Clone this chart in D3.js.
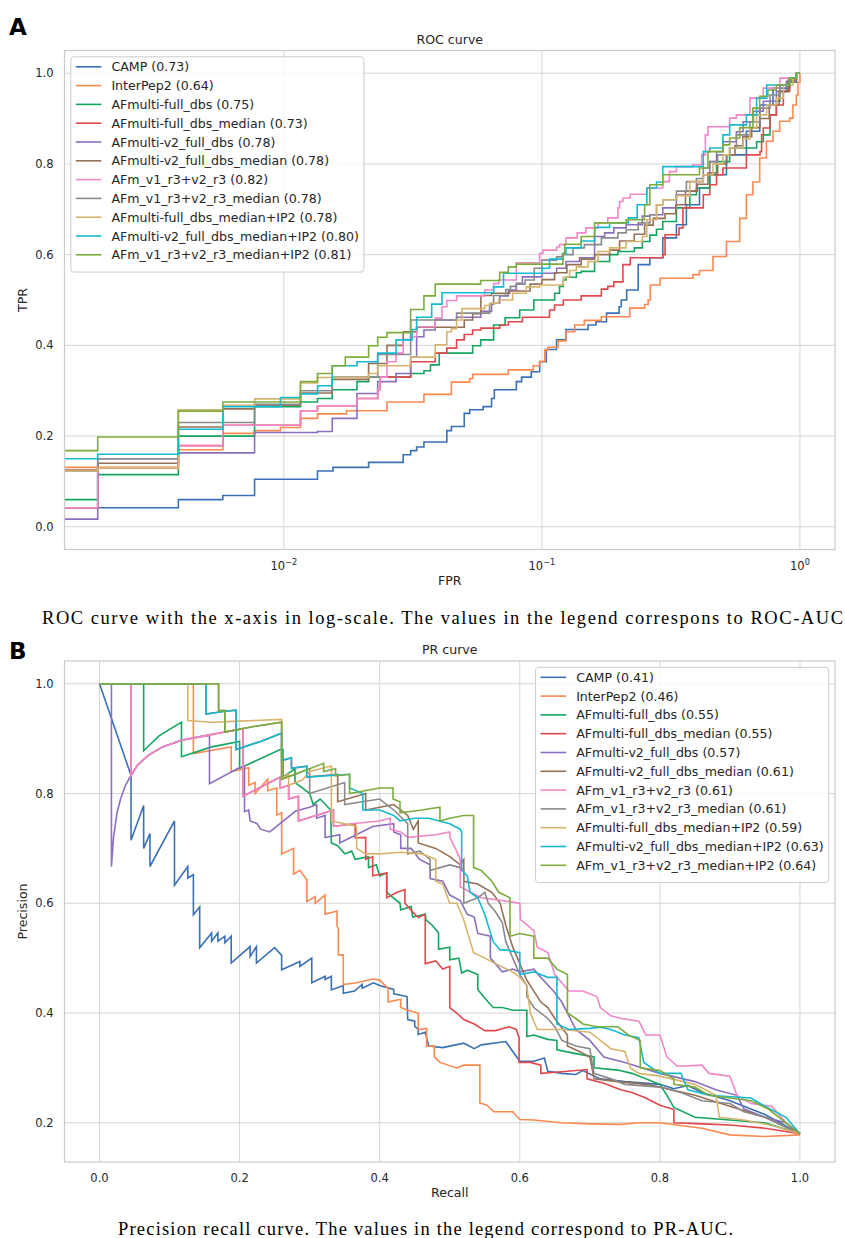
<!DOCTYPE html>
<html>
<head>
<meta charset="utf-8">
<script src="https://cdn.jsdelivr.net/npm/d3@7"></script>
<style>
  body { margin: 0; background: #fff; }
  svg text { font-family: "DejaVu Sans", sans-serif; fill: #262626; }
</style>
</head>
<body>
<svg id="fig" width="845" height="1238"></svg>
<script>
// ---------- series metadata ----------
const seriesNames = [
  "CAMP", "InterPep2", "AFmulti-full_dbs", "AFmulti-full_dbs_median",
  "AFmulti-v2_full_dbs", "AFmulti-v2_full_dbs_median", "AFm_v1_r3+v2_r3",
  "AFm_v1_r3+v2_r3_median", "AFmulti-full_dbs_median+IP2",
  "AFmulti-v2_full_dbs_median+IP2", "AFm_v1_r3+v2_r3_median+IP2"
];
const rocAuc = [0.73, 0.64, 0.75, 0.73, 0.78, 0.78, 0.82, 0.78, 0.78, 0.80, 0.81];
const prAuc  = [0.41, 0.46, 0.55, 0.55, 0.57, 0.61, 0.61, 0.61, 0.59, 0.63, 0.64];
const palette = ["#3a70b4", "#fa8a50", "#15a55f", "#e2474b", "#8b6fbf", "#967055",
                 "#f087c8", "#8a8a8a", "#d7b46e", "#16b9d2", "#7dac3c"];

const rocXTicks = [0.01, 0.1, 1];
const rocXExp = ["\u22122", "\u22121", "0"];
const rocYTicks = [0.0, 0.2, 0.4, 0.6, 0.8, 1.0];
const prXTicks = [0.0, 0.2, 0.4, 0.6, 0.8, 1.0];
const prYTicks = [0.2, 0.4, 0.6, 0.8, 1.0];

// ---------- ROC curves: [FPR, TPR] corners ----------
const rocCamp = [[0.0012,0.042],[0.0039,0.060],[0.0058,0.069],[0.0077,0.105],[0.0135,0.123],[0.0155,0.131],[0.0213,0.142],[0.029,0.159],[0.031,0.168],[0.0327,0.176],[0.0349,0.187],[0.0428,0.212],[0.0446,0.221],[0.050,0.25],[0.0525,0.258],[0.0592,0.265],[0.0638,0.283],[0.0654,0.302],[0.0796,0.32],[0.0834,0.33],[0.091,0.342],[0.098,0.364],[0.104,0.391],[0.114,0.412],[0.124,0.435],[0.151,0.445],[0.162,0.452],[0.178,0.471],[0.199,0.485],[0.203,0.50],[0.213,0.522],[0.236,0.578],[0.262,0.593],[0.294,0.637],[0.332,0.666],[0.363,0.71],[0.408,0.747],[0.447,0.776],[0.519,0.82],[0.62,0.872],[0.698,0.93],[0.786,0.967],[0.912,0.99],[0.968,1.0],[1.0,1.0]];
const rocInterPep2 = [[0.0012,0.131],[0.0039,0.17],[0.0058,0.206],[0.0077,0.212],[0.0097,0.219],[0.0116,0.239],[0.0135,0.249],[0.0175,0.256],[0.0251,0.275],[0.0349,0.292],[0.0446,0.319],[0.0525,0.327],[0.0539,0.336],[0.0741,0.346],[0.0925,0.355],[0.098,0.365],[0.1026,0.39],[0.1055,0.396],[0.1155,0.41],[0.124,0.43],[0.134,0.445],[0.146,0.455],[0.170,0.463],[0.219,0.482],[0.25,0.49],[0.258,0.50],[0.263,0.533],[0.287,0.548],[0.385,0.556],[0.408,0.565],[0.46,0.596],[0.519,0.629],[0.584,0.68],[0.62,0.732],[0.657,0.76],[0.698,0.813],[0.741,0.85],[0.786,0.872],[0.834,0.894],[0.912,0.901],[0.939,0.93],[0.968,0.952],[0.982,0.98],[1.0,1.0]];
const rocFull = [[0.0012,0.06],[0.0019,0.115],[0.0039,0.2],[0.0077,0.265],[0.0116,0.275],[0.0135,0.283],[0.0154,0.302],[0.0192,0.32],[0.0213,0.33],[0.031,0.338],[0.0349,0.344],[0.037,0.357],[0.04,0.383],[0.0539,0.399],[0.0579,0.412],[0.065,0.445],[0.072,0.461],[0.082,0.478],[0.093,0.5],[0.112,0.515],[0.117,0.53],[0.121,0.544],[0.124,0.55],[0.136,0.56],[0.142,0.563],[0.16,0.585],[0.183,0.6],[0.197,0.607],[0.228,0.615],[0.245,0.629],[0.262,0.643],[0.278,0.656],[0.294,0.673],[0.332,0.703],[0.374,0.732],[0.397,0.747],[0.447,0.776],[0.475,0.805],[0.534,0.835],[0.679,0.849],[0.721,0.864],[0.765,0.908],[0.81,0.938],[0.836,0.96],[0.9,0.98],[0.968,1],[1,1]];
const rocFullMedian = [[0.0012,0.042],[0.0019,0.13],[0.0039,0.179],[0.0058,0.224],[0.0116,0.256],[0.0135,0.267],[0.0192,0.283],[0.0231,0.302],[0.0236,0.33],[0.031,0.364],[0.0386,0.383],[0.0428,0.394],[0.0467,0.412],[0.05,0.424],[0.0539,0.434],[0.058,0.438],[0.0686,0.445],[0.0741,0.452],[0.084,0.462],[0.107,0.478],[0.112,0.489],[0.121,0.5],[0.142,0.509],[0.17,0.524],[0.18,0.53],[0.19,0.54],[0.206,0.578],[0.22,0.593],[0.294,0.6],[0.3,0.644],[0.34,0.659],[0.352,0.703],[0.422,0.732],[0.447,0.754],[0.475,0.776],[0.503,0.791],[0.62,0.82],[0.7,0.827],[0.71,0.864],[0.721,0.879],[0.765,0.908],[0.81,0.93],[0.862,0.96],[0.912,0.982],[0.968,1],[1,1]];
const rocV2 = [[0.0012,0.017],[0.0019,0.150],[0.0039,0.163],[0.0077,0.208],[0.0135,0.21],[0.0154,0.239],[0.0192,0.294],[0.0231,0.32],[0.0272,0.338],[0.031,0.374],[0.0327,0.419],[0.0349,0.434],[0.0386,0.456],[0.0467,0.462],[0.058,0.475],[0.0638,0.493],[0.0686,0.509],[0.0741,0.522],[0.0796,0.537],[0.084,0.551],[0.100,0.559],[0.114,0.57],[0.124,0.585],[0.14,0.593],[0.16,0.64],[0.175,0.648],[0.19,0.659],[0.212,0.666],[0.245,0.685],[0.262,0.688],[0.294,0.703],[0.332,0.732],[0.374,0.74],[0.397,0.761],[0.422,0.776],[0.447,0.805],[0.475,0.827],[0.503,0.849],[0.567,0.871],[0.602,0.893],[0.66,0.916],[0.721,0.938],[0.81,0.96],[0.885,0.982],[0.968,1],[1,1]];
const rocV2Median = [[0.0012,0.125],[0.0019,0.14],[0.0039,0.22],[0.0058,0.26],[0.0077,0.268],[0.0116,0.295],[0.0154,0.325],[0.0213,0.36],[0.0251,0.40],[0.029,0.43],[0.0327,0.44],[0.05,0.456],[0.0539,0.47],[0.058,0.51],[0.0638,0.515],[0.075,0.52],[0.09,0.535],[0.1,0.545],[0.112,0.56],[0.125,0.578],[0.142,0.59],[0.16,0.6],[0.183,0.61],[0.2,0.63],[0.228,0.645],[0.25,0.665],[0.27,0.68],[0.3,0.69],[0.33,0.71],[0.36,0.74],[0.4,0.755],[0.44,0.78],[0.48,0.8],[0.52,0.82],[0.56,0.84],[0.6,0.86],[0.65,0.88],[0.7,0.9],[0.76,0.93],[0.83,0.96],[0.9,0.985],[0.968,1],[1,1]];
const rocV1V2 = [[0.0012,0.042],[0.0019,0.13],[0.0039,0.179],[0.0058,0.224],[0.0116,0.256],[0.0135,0.267],[0.0192,0.283],[0.0231,0.302],[0.0236,0.33],[0.0251,0.364],[0.0272,0.383],[0.029,0.413],[0.031,0.419],[0.0327,0.441],[0.0386,0.46],[0.041,0.485],[0.0428,0.499],[0.0467,0.509],[0.060,0.522],[0.065,0.536],[0.068,0.544],[0.0796,0.582],[0.098,0.603],[0.101,0.61],[0.114,0.617],[0.117,0.622],[0.124,0.637],[0.137,0.648],[0.148,0.659],[0.165,0.67],[0.18,0.681],[0.197,0.703],[0.2,0.717],[0.206,0.725],[0.22,0.733],[0.255,0.747],[0.294,0.761],[0.312,0.783],[0.332,0.794],[0.385,0.798],[0.416,0.82],[0.43,0.864],[0.44,0.882],[0.534,0.901],[0.567,0.908],[0.64,0.945],[0.721,0.967],[0.836,0.989],[0.968,1],[1,1]];
const rocV1V2Median = [[0.0012,0.123],[0.0019,0.15],[0.0039,0.23],[0.0077,0.27],[0.0116,0.3],[0.0154,0.33],[0.0231,0.38],[0.031,0.456],[0.0467,0.471],[0.0627,0.491],[0.065,0.51],[0.0724,0.523],[0.0755,0.53],[0.0796,0.535],[0.086,0.544],[0.0934,0.57],[0.1,0.588],[0.114,0.595],[0.12,0.6],[0.132,0.615],[0.146,0.622],[0.17,0.637],[0.197,0.648],[0.212,0.655],[0.236,0.67],[0.262,0.688],[0.278,0.71],[0.294,0.721],[0.332,0.74],[0.363,0.761],[0.397,0.768],[0.422,0.791],[0.447,0.805],[0.48,0.82],[0.534,0.835],[0.567,0.864],[0.64,0.893],[0.7,0.923],[0.765,0.952],[0.836,0.974],[0.912,0.99],[0.968,1],[1,1]];
const rocFullMedianIP2 = [[0.0012,0.123],[0.0019,0.13],[0.0039,0.258],[0.0058,0.268],[0.0077,0.282],[0.0116,0.317],[0.0135,0.329],[0.0213,0.338],[0.0231,0.355],[0.031,0.374],[0.0386,0.401],[0.0428,0.43],[0.0446,0.437],[0.0467,0.456],[0.049,0.481],[0.06,0.488],[0.063,0.493],[0.068,0.50],[0.077,0.515],[0.087,0.529],[0.098,0.533],[0.121,0.55],[0.128,0.565],[0.136,0.573],[0.151,0.585],[0.165,0.607],[0.183,0.615],[0.212,0.629],[0.245,0.64],[0.255,0.677],[0.278,0.71],[0.294,0.721],[0.332,0.73],[0.374,0.761],[0.422,0.776],[0.46,0.80],[0.503,0.82],[0.534,0.835],[0.602,0.855],[0.64,0.879],[0.679,0.908],[0.743,0.93],[0.81,0.945],[0.862,0.974],[0.94,0.99],[0.968,1],[1,1]];
const rocV2MedianIP2 = [[0.0012,0.150],[0.0019,0.16],[0.0039,0.215],[0.0058,0.265],[0.0097,0.285],[0.0116,0.293],[0.0135,0.311],[0.0154,0.355],[0.0192,0.364],[0.0231,0.383],[0.0272,0.412],[0.0314,0.435],[0.0327,0.462],[0.0374,0.491],[0.041,0.516],[0.065,0.529],[0.071,0.559],[0.1,0.57],[0.107,0.59],[0.121,0.603],[0.124,0.615],[0.142,0.63],[0.16,0.66],[0.183,0.67],[0.216,0.681],[0.234,0.71],[0.255,0.747],[0.278,0.76],[0.294,0.794],[0.422,0.827],[0.447,0.835],[0.503,0.864],[0.534,0.886],[0.62,0.908],[0.679,0.945],[0.743,0.974],[0.912,0.99],[0.968,1],[1,1]];
const rocV1V2MedianIP2 = [[0.0012,0.168],[0.0019,0.198],[0.0039,0.255],[0.0058,0.275],[0.0116,0.32],[0.0135,0.338],[0.0154,0.355],[0.0173,0.374],[0.0213,0.399],[0.0231,0.418],[0.0251,0.428],[0.031,0.479],[0.0349,0.509],[0.0386,0.535],[0.0579,0.543],[0.0686,0.561],[0.0741,0.573],[0.0796,0.579],[0.1206,0.603],[0.1225,0.623],[0.142,0.640],[0.160,0.670],[0.212,0.677],[0.25,0.71],[0.262,0.754],[0.294,0.776],[0.408,0.791],[0.44,0.827],[0.503,0.842],[0.534,0.857],[0.584,0.88],[0.657,0.923],[0.698,0.949],[0.751,0.963],[0.81,0.974],[0.912,0.989],[0.968,1.0],[1,1]];

// ---------- PR curves: [recall, precision] ----------
const prCamp = [[0,1],[0.045,0.833],[0.045,0.715],[0.063,0.778],[0.063,0.70],[0.072,0.727],[0.072,0.667],[0.107,0.75],[0.107,0.633],[0.126,0.667],[0.126,0.646],[0.134,0.652],[0.134,0.579],[0.143,0.593],[0.143,0.519],[0.16,0.546],[0.16,0.531],[0.169,0.546],[0.169,0.531],[0.179,0.54],[0.179,0.528],[0.188,0.54],[0.188,0.491],[0.215,0.521],[0.215,0.503],[0.224,0.521],[0.224,0.491],[0.25,0.519],[0.26,0.505],[0.26,0.479],[0.286,0.494],[0.286,0.485],[0.303,0.50],[0.303,0.455],[0.322,0.467],[0.322,0.461],[0.331,0.467],[0.331,0.442],[0.348,0.45],[0.348,0.436],[0.364,0.44],[0.375,0.452],[0.375,0.445],[0.391,0.455],[0.4,0.45],[0.42,0.443],[0.42,0.435],[0.439,0.43],[0.44,0.388],[0.45,0.385],[0.45,0.376],[0.455,0.37],[0.455,0.361],[0.465,0.365],[0.47,0.34],[0.49,0.337],[0.52,0.345],[0.535,0.335],[0.545,0.342],[0.58,0.348],[0.59,0.33],[0.6,0.312],[0.62,0.312],[0.635,0.318],[0.64,0.294],[0.66,0.29],[0.68,0.288],[0.69,0.295],[0.715,0.28],[0.75,0.275],[0.8,0.27],[0.82,0.262],[0.84,0.268],[0.86,0.255],[0.9,0.24],[0.95,0.215],[1.0,0.18]];
const prInterPep2 = [[0,1],[0.134,1],[0.134,0.873],[0.188,0.885],[0.188,0.84],[0.213,0.847],[0.213,0.815],[0.222,0.82],[0.222,0.80],[0.24,0.826],[0.24,0.805],[0.253,0.81],[0.253,0.761],[0.26,0.765],[0.26,0.69],[0.277,0.70],[0.277,0.653],[0.286,0.66],[0.296,0.643],[0.296,0.603],[0.308,0.612],[0.308,0.6],[0.322,0.615],[0.322,0.58],[0.339,0.586],[0.339,0.56],[0.341,0.552],[0.341,0.506],[0.348,0.506],[0.348,0.452],[0.367,0.455],[0.391,0.462],[0.4,0.46],[0.412,0.445],[0.412,0.42],[0.43,0.425],[0.43,0.41],[0.44,0.405],[0.455,0.4],[0.455,0.37],[0.467,0.372],[0.467,0.339],[0.478,0.34],[0.478,0.32],[0.486,0.31],[0.51,0.30],[0.52,0.305],[0.543,0.305],[0.543,0.236],[0.553,0.232],[0.563,0.22],[0.59,0.22],[0.6,0.206],[0.62,0.205],[0.66,0.2],[0.7,0.198],[0.744,0.197],[0.77,0.2],[0.8,0.2],[0.86,0.19],[0.9,0.178],[0.95,0.175],[1.0,0.178]];
const prFull = [[0,1],[0.063,1],[0.063,0.878],[0.085,0.905],[0.117,0.93],[0.117,0.867],[0.16,0.885],[0.2,0.895],[0.2,0.846],[0.258,0.88],[0.262,0.88],[0.262,0.83],[0.279,0.845],[0.279,0.82],[0.29,0.81],[0.3,0.80],[0.305,0.78],[0.315,0.79],[0.33,0.77],[0.331,0.71],[0.34,0.705],[0.35,0.69],[0.36,0.695],[0.365,0.68],[0.384,0.685],[0.384,0.665],[0.395,0.67],[0.4,0.65],[0.41,0.655],[0.41,0.62],[0.429,0.6],[0.43,0.588],[0.445,0.594],[0.447,0.575],[0.465,0.58],[0.466,0.57],[0.475,0.56],[0.484,0.546],[0.484,0.516],[0.5,0.52],[0.5,0.497],[0.513,0.5],[0.517,0.473],[0.525,0.478],[0.54,0.47],[0.54,0.443],[0.548,0.43],[0.562,0.41],[0.575,0.41],[0.59,0.405],[0.61,0.405],[0.61,0.357],[0.62,0.36],[0.64,0.352],[0.653,0.35],[0.653,0.333],[0.68,0.326],[0.706,0.32],[0.706,0.30],[0.74,0.296],[0.76,0.29],[0.8,0.27],[0.81,0.25],[0.82,0.228],[0.85,0.21],[0.9,0.205],[0.95,0.2],[1.0,0.18]];
const prFullMedian = [[0,1],[0.045,1],[0.045,0.833],[0.055,0.853],[0.07,0.87],[0.09,0.885],[0.117,0.897],[0.15,0.905],[0.179,0.912],[0.205,0.918],[0.205,0.795],[0.258,0.83],[0.258,0.81],[0.27,0.815],[0.27,0.79],[0.284,0.795],[0.284,0.75],[0.334,0.77],[0.334,0.74],[0.365,0.745],[0.365,0.719],[0.38,0.72],[0.38,0.68],[0.39,0.685],[0.39,0.65],[0.41,0.655],[0.41,0.61],[0.425,0.62],[0.436,0.625],[0.436,0.6],[0.45,0.58],[0.455,0.574],[0.465,0.58],[0.465,0.49],[0.48,0.495],[0.49,0.48],[0.5,0.485],[0.5,0.41],[0.51,0.40],[0.52,0.388],[0.535,0.38],[0.55,0.368],[0.565,0.368],[0.585,0.375],[0.595,0.37],[0.599,0.355],[0.599,0.31],[0.615,0.31],[0.63,0.305],[0.63,0.29],[0.66,0.293],[0.696,0.297],[0.696,0.28],[0.72,0.272],[0.744,0.26],[0.76,0.255],[0.78,0.245],[0.8,0.232],[0.82,0.224],[0.82,0.2],[0.86,0.198],[0.9,0.196],[0.95,0.19],[1.0,0.18]];
const prV2 = [[0,1],[0.017,1],[0.017,0.667],[0.02,0.72],[0.025,0.765],[0.03,0.79],[0.037,0.815],[0.045,0.833],[0.055,0.853],[0.07,0.87],[0.09,0.885],[0.117,0.897],[0.15,0.905],[0.157,0.906],[0.157,0.818],[0.198,0.846],[0.207,0.85],[0.207,0.767],[0.213,0.77],[0.215,0.75],[0.225,0.745],[0.23,0.735],[0.243,0.73],[0.28,0.768],[0.3,0.775],[0.31,0.78],[0.31,0.755],[0.322,0.76],[0.322,0.72],[0.343,0.725],[0.343,0.71],[0.39,0.74],[0.42,0.745],[0.42,0.73],[0.43,0.725],[0.43,0.70],[0.445,0.70],[0.457,0.68],[0.472,0.67],[0.472,0.645],[0.49,0.64],[0.5,0.615],[0.515,0.605],[0.525,0.58],[0.535,0.575],[0.54,0.545],[0.558,0.54],[0.558,0.5],[0.565,0.49],[0.575,0.475],[0.59,0.48],[0.6,0.475],[0.62,0.48],[0.63,0.465],[0.648,0.44],[0.66,0.42],[0.68,0.37],[0.7,0.35],[0.72,0.32],[0.75,0.31],[0.8,0.29],[0.85,0.275],[0.88,0.26],[0.91,0.25],[0.92,0.225],[0.95,0.21],[0.98,0.2],[1.0,0.18]];
const prV2Median = [[0,1],[0.152,1],[0.152,0.945],[0.179,0.95],[0.195,0.952],[0.195,0.88],[0.23,0.895],[0.26,0.91],[0.26,0.86],[0.274,0.865],[0.274,0.846],[0.296,0.85],[0.296,0.83],[0.34,0.835],[0.34,0.785],[0.38,0.8],[0.38,0.77],[0.42,0.78],[0.44,0.76],[0.448,0.735],[0.455,0.75],[0.455,0.71],[0.48,0.7],[0.5,0.685],[0.515,0.67],[0.52,0.68],[0.52,0.64],[0.54,0.635],[0.56,0.62],[0.572,0.6],[0.58,0.56],[0.59,0.52],[0.6,0.49],[0.61,0.46],[0.62,0.44],[0.63,0.42],[0.64,0.41],[0.65,0.39],[0.668,0.36],[0.668,0.34],[0.685,0.33],[0.7,0.32],[0.706,0.28],[0.74,0.275],[0.78,0.27],[0.8,0.265],[0.85,0.25],[0.9,0.23],[0.95,0.21],[1.0,0.18]];
const prV1V2 = [[0,1],[0.045,1],[0.045,0.833],[0.055,0.853],[0.07,0.87],[0.09,0.885],[0.117,0.897],[0.15,0.905],[0.179,0.912],[0.205,0.918],[0.205,0.795],[0.258,0.83],[0.258,0.81],[0.27,0.815],[0.27,0.79],[0.284,0.795],[0.284,0.75],[0.334,0.77],[0.334,0.74],[0.36,0.745],[0.4,0.75],[0.415,0.755],[0.415,0.735],[0.43,0.73],[0.44,0.72],[0.48,0.725],[0.5,0.73],[0.5,0.72],[0.508,0.7],[0.515,0.68],[0.515,0.63],[0.53,0.62],[0.545,0.61],[0.575,0.605],[0.6,0.6],[0.601,0.57],[0.62,0.55],[0.625,0.52],[0.64,0.51],[0.65,0.47],[0.67,0.44],[0.69,0.44],[0.71,0.43],[0.715,0.41],[0.73,0.395],[0.745,0.39],[0.77,0.385],[0.78,0.36],[0.8,0.36],[0.81,0.32],[0.825,0.303],[0.86,0.305],[0.87,0.29],[0.9,0.285],[0.91,0.25],[0.93,0.235],[0.96,0.23],[0.98,0.2],[1.0,0.18]];
const prV1V2Median = [[0,1],[0.17,1],[0.17,0.951],[0.179,0.951],[0.179,0.912],[0.22,0.922],[0.26,0.93],[0.26,0.826],[0.3,0.845],[0.3,0.8],[0.35,0.82],[0.35,0.78],[0.4,0.79],[0.42,0.77],[0.44,0.745],[0.44,0.69],[0.457,0.695],[0.472,0.68],[0.472,0.66],[0.5,0.67],[0.515,0.665],[0.52,0.66],[0.52,0.6],[0.54,0.61],[0.55,0.62],[0.555,0.6],[0.565,0.585],[0.575,0.565],[0.58,0.53],[0.59,0.5],[0.6,0.47],[0.61,0.45],[0.61,0.43],[0.62,0.41],[0.64,0.39],[0.65,0.375],[0.66,0.35],[0.68,0.34],[0.7,0.335],[0.706,0.29],[0.73,0.28],[0.75,0.27],[0.8,0.265],[0.83,0.255],[0.86,0.24],[0.9,0.235],[0.92,0.22],[0.95,0.21],[1.0,0.18]];
const prFullMedianIP2 = [[0,1],[0.126,1],[0.126,0.933],[0.16,0.93],[0.2,0.932],[0.26,0.935],[0.26,0.827],[0.27,0.835],[0.27,0.815],[0.29,0.825],[0.3,0.84],[0.331,0.85],[0.331,0.75],[0.35,0.745],[0.367,0.74],[0.367,0.7],[0.38,0.69],[0.4,0.69],[0.43,0.693],[0.46,0.69],[0.48,0.68],[0.48,0.64],[0.49,0.635],[0.5,0.6],[0.51,0.6],[0.52,0.57],[0.534,0.51],[0.55,0.5],[0.565,0.49],[0.59,0.475],[0.6,0.465],[0.61,0.45],[0.615,0.4],[0.625,0.37],[0.66,0.37],[0.7,0.365],[0.72,0.345],[0.73,0.335],[0.75,0.33],[0.758,0.3],[0.77,0.29],[0.8,0.285],[0.85,0.27],[0.88,0.25],[0.885,0.21],[0.92,0.205],[0.96,0.195],[1.0,0.18]];
const prV2MedianIP2 = [[0,1],[0.152,1],[0.152,0.945],[0.179,0.95],[0.195,0.952],[0.195,0.88],[0.23,0.895],[0.26,0.91],[0.26,0.86],[0.274,0.865],[0.274,0.846],[0.296,0.85],[0.296,0.83],[0.357,0.835],[0.357,0.81],[0.376,0.8],[0.376,0.77],[0.4,0.77],[0.42,0.76],[0.429,0.75],[0.45,0.755],[0.47,0.755],[0.5,0.745],[0.515,0.735],[0.517,0.73],[0.517,0.66],[0.525,0.65],[0.529,0.62],[0.54,0.61],[0.55,0.58],[0.562,0.53],[0.572,0.515],[0.58,0.515],[0.6,0.51],[0.6,0.47],[0.62,0.475],[0.64,0.465],[0.653,0.465],[0.653,0.38],[0.67,0.37],[0.7,0.372],[0.715,0.374],[0.73,0.37],[0.75,0.36],[0.77,0.355],[0.777,0.31],[0.8,0.29],[0.83,0.29],[0.84,0.26],[0.87,0.25],[0.93,0.245],[0.95,0.23],[0.98,0.21],[1.0,0.18]];
const prV1V2MedianIP2 = [[0,1],[0.17,1],[0.17,0.951],[0.179,0.951],[0.179,0.912],[0.22,0.922],[0.26,0.93],[0.26,0.826],[0.3,0.845],[0.32,0.855],[0.32,0.84],[0.337,0.845],[0.337,0.832],[0.357,0.835],[0.357,0.8],[0.4,0.81],[0.419,0.81],[0.419,0.79],[0.429,0.785],[0.429,0.765],[0.46,0.77],[0.486,0.775],[0.486,0.75],[0.5,0.755],[0.52,0.76],[0.534,0.76],[0.534,0.665],[0.545,0.66],[0.56,0.64],[0.57,0.62],[0.586,0.61],[0.586,0.54],[0.6,0.545],[0.62,0.54],[0.62,0.5],[0.64,0.5],[0.653,0.48],[0.668,0.47],[0.668,0.40],[0.68,0.39],[0.69,0.38],[0.71,0.375],[0.74,0.375],[0.755,0.36],[0.772,0.35],[0.772,0.3],[0.8,0.295],[0.82,0.28],[0.82,0.27],[0.85,0.265],[0.87,0.25],[0.9,0.245],[0.93,0.24],[0.955,0.225],[0.98,0.2],[1.0,0.18]];

const rocSeries = [rocCamp, rocInterPep2, rocFull, rocFullMedian, rocV2, rocV2Median,
                   rocV1V2, rocV1V2Median, rocFullMedianIP2, rocV2MedianIP2, rocV1V2MedianIP2];
const prSeries = [prCamp, prInterPep2, prFull, prFullMedian, prV2, prV2Median,
                  prV1V2, prV1V2Median, prFullMedianIP2, prV2MedianIP2, prV1V2MedianIP2];

// ---------- drawing ----------
const svg = d3.select("#fig");
const GRID = "#d5d5d5";
const TICK_FONT = 11.5, LABEL_FONT = 12.6;

function drawPanel(cfg) {
  const { id, box, x, y, xTicks, yTicks, xFmt, yFmt, data, curve, labels,
          title, xLabel, yLabel, legendCorner } = cfg;
  const g = svg.append("g");

  g.append("clipPath").attr("id", "clip-" + id)
    .append("rect").attr("x", box.left).attr("y", box.top)
    .attr("width", box.right - box.left).attr("height", box.bottom - box.top);

  // grid
  g.append("g").selectAll("line").data(yTicks).join("line")
    .attr("x1", box.left).attr("x2", box.right)
    .attr("y1", d => y(d)).attr("y2", d => y(d))
    .attr("stroke", GRID).attr("stroke-width", 1);
  g.append("g").selectAll("line").data(xTicks).join("line")
    .attr("y1", box.top).attr("y2", box.bottom)
    .attr("x1", d => x(d)).attr("x2", d => x(d))
    .attr("stroke", GRID).attr("stroke-width", 1);

  // curves
  const line = d3.line().x(d => x(d[0])).y(d => y(d[1])).curve(curve);
  g.append("g").attr("clip-path", `url(#clip-${id})`)
    .selectAll("path").data(data).join("path")
    .attr("d", line).attr("fill", "none")
    .attr("stroke", (d, i) => palette[i]).attr("stroke-width", 1.6)
    .attr("stroke-linejoin", "miter");

  // frame
  g.append("rect").attr("x", box.left).attr("y", box.top)
    .attr("width", box.right - box.left).attr("height", box.bottom - box.top)
    .attr("fill", "none").attr("stroke", "#cccccc").attr("stroke-width", 1.25);

  // y tick labels
  g.append("g").selectAll("text").data(yTicks).join("text")
    .attr("x", box.left - 11).attr("y", d => y(d))
    .attr("text-anchor", "end").attr("dominant-baseline", "central")
    .attr("font-size", TICK_FONT).text(yFmt);

  // x tick labels
  const xl = g.append("g").selectAll("text").data(xTicks).join("text")
    .attr("x", d => x(d)).attr("y", box.bottom + 20)
    .attr("text-anchor", "middle").attr("font-size", TICK_FONT);
  xFmt(xl);

  // titles and axis labels
  g.append("text").attr("x", (box.left + box.right) / 2).attr("y", box.top - 7)
    .attr("text-anchor", "middle").attr("font-size", LABEL_FONT).text(title);
  g.append("text").attr("x", (box.left + box.right) / 2).attr("y", box.bottom + 35)
    .attr("text-anchor", "middle").attr("font-size", LABEL_FONT).text(xLabel);
  g.append("text")
    .attr("transform", `translate(27,${(box.top + box.bottom) / 2}) rotate(-90)`)
    .attr("text-anchor", "middle").attr("font-size", LABEL_FONT).text(yLabel);

  // legend
  const pad = 5, handle = 25.6, gap = 10, rowH = 18.8, inset = 6.3;
  const lg = g.append("g");
  const bg = lg.append("rect");
  const texts = lg.selectAll("text.lab").data(labels).join("text").attr("class", "lab")
    .attr("font-size", LABEL_FONT).attr("dominant-baseline", "central").text(d => d);
  let maxW = 0;
  texts.each(function () { maxW = Math.max(maxW, this.getComputedTextLength()); });
  const w = pad + handle + gap + maxW + pad;
  const h = labels.length * rowH + 8.5;
  const bx = legendCorner === "left" ? box.left + inset : box.right - inset - w;
  const by = box.top + inset;
  bg.attr("x", bx).attr("y", by).attr("width", w).attr("height", h)
    .attr("rx", 3).attr("fill", "#fff").attr("fill-opacity", 0.8)
    .attr("stroke", "#cccccc").attr("stroke-width", 1);
  texts.attr("x", bx + pad + handle + gap).attr("y", (d, i) => by + 10 + i * rowH);
  lg.selectAll("line").data(labels).join("line")
    .attr("x1", bx + pad).attr("x2", bx + pad + handle)
    .attr("y1", (d, i) => by + 10 + i * rowH).attr("y2", (d, i) => by + 10 + i * rowH)
    .attr("stroke", (d, i) => palette[i]).attr("stroke-width", 1.6);
}

// ROC panel (log-scaled FPR)
const rocBox = { left: 64.5, right: 835, top: 50.5, bottom: 549.5 };
drawPanel({
  id: "roc", box: rocBox,
  x: d3.scaleLog().domain([Math.pow(10, -2.85), Math.pow(10, 0.1357)]).range([rocBox.left, rocBox.right]),
  y: d3.scaleLinear().domain([-0.05, 1.05]).range([rocBox.bottom, rocBox.top]),
  xTicks: rocXTicks, yTicks: rocYTicks,
  xFmt: sel => sel.each(function (d, i) {
    const t = d3.select(this);
    t.append("tspan").text("10");
    t.append("tspan").attr("dy", -5).attr("font-size", 8.2).text(rocXExp[i]);
  }),
  yFmt: d => d.toFixed(1),
  data: rocSeries, curve: d3.curveStepAfter,
  labels: seriesNames.map((n, i) => `${n} (${rocAuc[i].toFixed(2)})`),
  title: "ROC curve", xLabel: "FPR", yLabel: "TPR", legendCorner: "left"
});

// PR panel
const prBox = { left: 64.5, right: 835, top: 661, bottom: 1162 };
drawPanel({
  id: "pr", box: prBox,
  x: d3.scaleLinear().domain([-0.05, 1.05]).range([prBox.left, prBox.right]),
  y: d3.scaleLinear().domain([0.1285, 1.0415]).range([prBox.bottom, prBox.top]),
  xTicks: prXTicks, yTicks: prYTicks,
  xFmt: sel => sel.text(d => d.toFixed(1)),
  yFmt: d => d.toFixed(1),
  data: prSeries, curve: d3.curveLinear,
  labels: seriesNames.map((n, i) => `${n} (${prAuc[i].toFixed(2)})`),
  title: "PR curve", xLabel: "Recall", yLabel: "Precision", legendCorner: "right"
});

// panel letters
svg.append("text").attr("x", 9).attr("y", 35).attr("font-size", 23)
  .attr("font-weight", "bold").style("fill", "#000").text("A");
svg.append("text").attr("x", 9).attr("y", 659).attr("font-size", 23)
  .attr("font-weight", "bold").style("fill", "#000").text("B");

// captions
svg.append("text").attr("x", 42).attr("y", 624)
  .attr("font-size", 18.5).style("font-family", "'Liberation Serif', serif").style("fill", "#000")
  .attr("textLength", 801).attr("lengthAdjust", "spacing")
  .text("ROC curve with the x-axis in log-scale. The values in the legend correspons to ROC-AUC");
svg.append("text").attr("x", 118).attr("y", 1235)
  .attr("font-size", 18.5).style("font-family", "'Liberation Serif', serif").style("fill", "#000")
  .attr("textLength", 615).attr("lengthAdjust", "spacing")
  .text("Precision recall curve. The values in the legend correspond to PR-AUC.");
</script>
</body>
</html>
